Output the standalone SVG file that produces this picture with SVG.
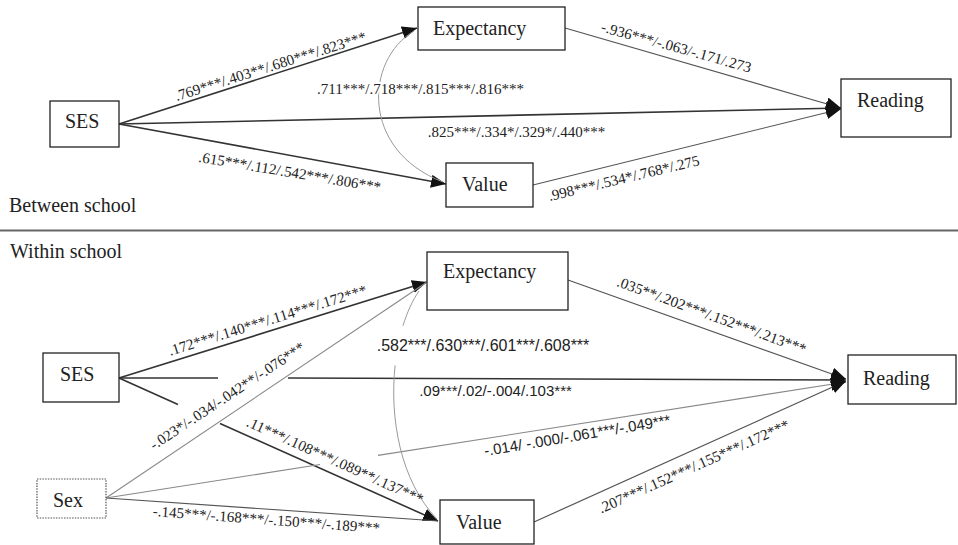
<svg xmlns="http://www.w3.org/2000/svg" width="958" height="545" viewBox="0 0 958 545">
<style>
.box{fill:#fff;stroke:#222;stroke-width:1.3}
.dot{fill:#fff;stroke:#555;stroke-width:1.2;stroke-dasharray:1.5 1.2}
.halo{stroke:#fff;stroke-width:4;paint-order:stroke}
.dk{fill:none;stroke:#333;stroke-width:1.6}
.md{fill:none;stroke:#555;stroke-width:1.2}
.lt{fill:none;stroke:#888;stroke-width:1.1}
.cv{fill:none;stroke:#999;stroke-width:1}
.ar{marker-end:url(#arr)}
</style>
<defs>
<marker id="arr" markerUnits="userSpaceOnUse" markerWidth="16" markerHeight="14" refX="15" refY="6.5" orient="auto">
<path d="M0,0 L15,6.5 L0,13 z" fill="#111"/>
</marker>
</defs>
<rect width="958" height="545" fill="#fff"/>
<line x1="0" y1="230.5" x2="958" y2="230.5" stroke="#666" stroke-width="2"/>
<g font-family="Liberation Serif, serif" font-size="20" fill="#222">
<text x="9" y="212">Between school</text>
<text x="10" y="258">Within school</text>
</g>

<g id="connectors">
<path class="dk ar" d="M119,124 L417,28"/>
<path class="dk ar" d="M119,124 L446,184"/>
<path class="dk ar" d="M119,124 L841,108"/>
<path class="md ar" d="M565,28 L841,108"/>
<path class="md ar" d="M533,185 L841,109"/>
<path class="cv" d="M414,31 C365,60 360,150 443,182"/>
<path class="dk ar" d="M119,378 L427,282"/>
<path class="lt" d="M106,498 L427,282"/>
<path class="dk" d="M119,378 L218,378"/>
<path class="dk ar" d="M288,378 L846,380"/>
<path class="dk" d="M119,378 L178,404.5"/>
<path class="dk ar" d="M220,423.5 L438,521"/>
<path class="md" d="M106,498 L438,521"/>
<path class="lt" d="M106,498 L320,464.5"/>
<path class="lt ar" d="M378,455.4 L846,382"/>
<path class="md ar" d="M568,280 L846,379"/>
<path class="md ar" d="M534,522 L846,381"/>
<path class="cv" d="M419,291 C412.54,300.31 407.13,312.18 402.99,325.71"/>
<path class="cv" d="M395.09,365.43 C389.44,418.48 400.52,481.24 437,519"/>
</g>

<g id="labels" font-family="Liberation Serif, serif" font-size="15" fill="#222" text-anchor="middle">
<text transform="translate(272,71) rotate(-17.5)">.769***/.403**/.680***/.823***</text>
<text class="halo" x="420.5" y="94">.711***/.718***/.815***/.816***</text>
<text x="516.5" y="137">.825***/.334*/.329*/.440***</text>
<text transform="translate(289,177) rotate(9.5)">.615***/.112/.542***/.806***</text>
<text transform="translate(675,52) rotate(15.5)">-.936***/-.063/-.171/.273</text>
<text transform="translate(625,183) rotate(-13.5)">.998***/.534*/.768*/.275</text>
<text transform="translate(269,325) rotate(-17.3)">.172***/.140***/.114***/.172***</text>
<text transform="translate(230,400) rotate(-33.5)">-.023*/-.034/-.042**/-.076***</text>
<text transform="translate(333,465) rotate(24.2)">.11***/.108***/.089**/.137***</text>
<text transform="translate(266,524.5) rotate(4.3)">-.145***/-.168***/-.150***/-.189***</text>
<text transform="translate(710,320) rotate(20)">.035**/.202***/.152***/.213***</text>
<text transform="translate(696,471) rotate(-24.2)">.207***/.152***/.155***/.172***</text>
</g>
<g id="labels-sans" font-family="Liberation Sans, Arial, sans-serif" font-size="15" fill="#222" text-anchor="middle">
<text x="483" y="351" font-size="16">.582***/.630***/.601***/.608***</text>
<text x="495.5" y="396">.09***/.02/-.004/.103***</text>
<text transform="translate(578,440.5) rotate(-9.5)">-.014/ -.000/-.061***/-.049***</text>
</g>

<g font-family="Liberation Serif, serif" font-size="20" fill="#222">
<g id="b-ses"><rect class="box" x="50" y="101" width="69" height="46"/><text x="65" y="128">SES</text></g>
<g id="b-expectancy"><rect class="box" x="418" y="7" width="147" height="43"/><text x="433" y="35">Expectancy</text></g>
<g id="b-value"><rect class="box" x="446" y="163" width="87" height="44"/><text x="462" y="191">Value</text></g>
<g id="b-reading"><rect class="box" x="841" y="79" width="110" height="58"/><text x="857" y="107">Reading</text></g>
<g id="w-ses"><rect class="box" x="43" y="353" width="76" height="49"/><text x="60" y="381">SES</text></g>
<g id="w-sex"><rect class="dot" x="37" y="479" width="69" height="39"/><text x="53" y="507">Sex</text></g>
<g id="w-expectancy"><rect class="box" x="427" y="252" width="141" height="58"/><text x="443" y="278">Expectancy</text></g>
<g id="w-value"><rect class="box" x="440" y="500" width="94" height="44"/><text x="456" y="529">Value</text></g>
<g id="w-reading"><rect class="box" x="848" y="355" width="108" height="49"/><text x="863" y="385">Reading</text></g>
</g>
</svg>
